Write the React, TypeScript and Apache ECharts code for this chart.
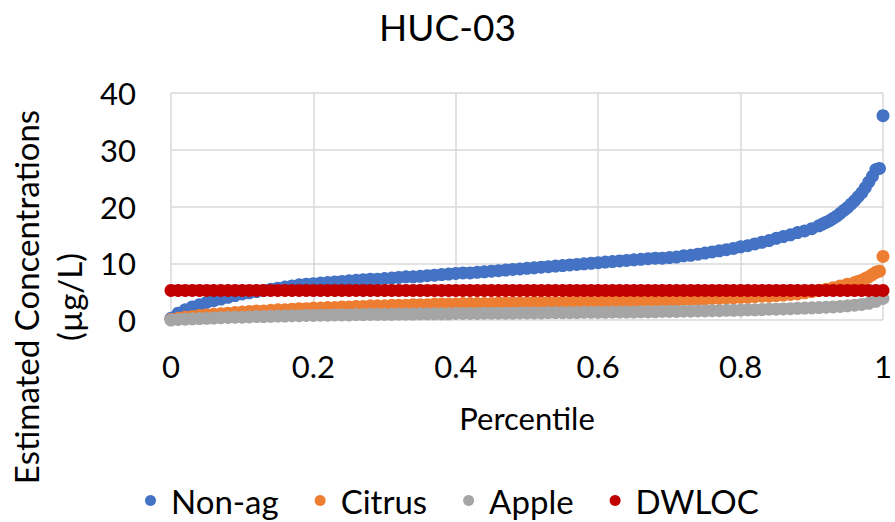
import React, { useEffect, useRef } from "react";
import * as echarts from "echarts";

const TITLE = "HUC-03";
const SERIES_NAMES = ["Non-ag", "Citrus", "Apple", "DWLOC"];
const COLORS = ["#4472C4", "#ED7D31", "#A5A5A5", "#C00000"];
const X_TICKS = [0, 0.2, 0.4, 0.6, 0.8, 1];
const Y_TICKS = [0, 10, 20, 30, 40];

// sorted estimated concentrations (µg/L) at percentiles 0, 0.01, ..., 1
const NON_AG = [
  0.3, 1.2, 1.8, 2.3, 2.7, 3.1, 3.4, 3.7, 4.0, 4.3,
  4.6, 4.8, 5.0, 5.2, 5.4, 5.6, 5.8, 6.0, 6.2, 6.3,
  6.4, 6.5, 6.6, 6.7, 6.8, 6.9, 7.0, 7.1, 7.2, 7.2,
  7.3, 7.4, 7.5, 7.6, 7.6, 7.7, 7.8, 7.9, 8.0, 8.1,
  8.2, 8.3, 8.3, 8.4, 8.5, 8.6, 8.7, 8.8, 8.9, 9.0,
  9.1, 9.2, 9.3, 9.4, 9.5, 9.6, 9.7, 9.8, 9.9, 10.0,
  10.1, 10.2, 10.3, 10.4, 10.5, 10.6, 10.7, 10.8, 10.9, 10.9,
  11.0, 11.1, 11.3, 11.4, 11.6, 11.8, 12.0, 12.2, 12.4, 12.6,
  12.9, 13.1, 13.4, 13.7, 14.0, 14.4, 14.7, 15.0, 15.4, 15.7,
  16.1, 16.6, 17.2, 17.9, 18.8, 19.8, 21.0, 22.4, 24.3, 26.5,
  36.0,
];
// extra samples read in the steep upper tail: [percentile, value]
const NON_AG_TAIL = [
  [0.915, 16.9], [0.925, 17.5], [0.935, 18.3], [0.945, 19.3], [0.955, 20.4],
  [0.965, 21.7], [0.975, 23.3], [0.985, 25.3], [0.995, 26.7],
];
const CITRUS = [
  0.1, 0.3, 0.5, 0.6, 0.8, 0.9, 1.0, 1.1, 1.2, 1.3,
  1.4, 1.5, 1.6, 1.6, 1.7, 1.8, 1.8, 1.9, 2.0, 2.0,
  2.1, 2.1, 2.2, 2.2, 2.3, 2.3, 2.4, 2.4, 2.5, 2.5,
  2.5, 2.6, 2.6, 2.6, 2.7, 2.7, 2.7, 2.8, 2.8, 2.8,
  2.8, 2.9, 2.9, 2.9, 2.9, 2.9, 3.0, 3.0, 3.0, 3.0,
  3.0, 3.1, 3.1, 3.1, 3.1, 3.1, 3.2, 3.2, 3.2, 3.2,
  3.2, 3.3, 3.3, 3.3, 3.3, 3.3, 3.4, 3.4, 3.4, 3.5,
  3.5, 3.5, 3.6, 3.6, 3.7, 3.7, 3.8, 3.8, 3.9, 3.9,
  4.0, 4.0, 4.1, 4.2, 4.2, 4.3, 4.4, 4.5, 4.6, 4.8,
  5.0, 5.2, 5.4, 5.7, 6.0, 6.3, 6.6, 7.0, 7.6, 8.4,
  11.2,
];
const CITRUS_TAIL = [
  [0.965, 6.8], [0.975, 7.3], [0.985, 8.0], [0.995, 8.6],
];
const APPLE = [
  0.0, 0.1, 0.15, 0.2, 0.25, 0.3, 0.35, 0.4, 0.45, 0.5,
  0.5, 0.55, 0.6, 0.6, 0.65, 0.7, 0.7, 0.75, 0.75, 0.8,
  0.8, 0.85, 0.85, 0.9, 0.9, 0.9, 0.95, 0.95, 1.0, 1.0,
  1.0, 1.0, 1.05, 1.05, 1.05, 1.1, 1.1, 1.1, 1.1, 1.1,
  1.15, 1.15, 1.15, 1.15, 1.2, 1.2, 1.2, 1.2, 1.2, 1.25,
  1.25, 1.25, 1.25, 1.3, 1.3, 1.3, 1.3, 1.3, 1.35, 1.35,
  1.35, 1.35, 1.4, 1.4, 1.4, 1.4, 1.45, 1.45, 1.45, 1.5,
  1.5, 1.5, 1.55, 1.55, 1.6, 1.6, 1.65, 1.65, 1.7, 1.7,
  1.75, 1.8, 1.8, 1.85, 1.9, 1.9, 1.95, 2.0, 2.05, 2.1,
  2.15, 2.2, 2.25, 2.3, 2.4, 2.5, 2.6, 2.75, 2.95, 3.3,
  3.8,
];
const DWLOC = 5.2;

const FONT = "Lato";

export default function App() {
  const ref = useRef<HTMLDivElement>(null);

  useEffect(() => {
    document.body.style.margin = "0";
    if (!ref.current) return;
    const chart = echarts.init(ref.current, undefined, { renderer: "svg" });
    const pct = (i: number, n: number) => i / (n - 1);
    const toPts = (arr: number[]) => arr.map((v, i) => [pct(i, arr.length), v]);
    const byX = (a: number[], b: number[]) => a[0] - b[0];
    const dwlocPts = NON_AG.map((_, i) => [pct(i, NON_AG.length), DWLOC]);
    const seriesData = [
      toPts(NON_AG).concat(NON_AG_TAIL).sort(byX),
      toPts(CITRUS).concat(CITRUS_TAIL).sort(byX),
      toPts(APPLE),
      dwlocPts,
    ];

    chart.setOption({
      animation: false,
      backgroundColor: "#ffffff",
      color: COLORS,
      title: {
        text: TITLE,
        left: "center",
        top: 3,
        textStyle: { fontFamily: FONT, fontSize: 37, fontWeight: "normal", color: "#000" },
      },
      grid: { left: 171, right: 9, top: 93, bottom: 202 },
      legend: {
        top: 479,
        left: 140,
        icon: "circle",
        itemWidth: 11,
        itemHeight: 11,
        itemGap: 36,
        data: SERIES_NAMES,
        textStyle: { fontFamily: FONT, fontSize: 33, color: "#000", padding: [0, 0, 0, 10] },
      },
      xAxis: {
        type: "value",
        min: X_TICKS[0],
        max: X_TICKS[X_TICKS.length - 1],
        interval: 0.2,
        name: "Percentile",
        nameLocation: "middle",
        nameGap: 82,
        nameTextStyle: { fontFamily: FONT, fontSize: 31, color: "#000" },
        axisLine: { show: false },
        axisTick: { show: false },
        axisLabel: { fontFamily: FONT, fontSize: 31, color: "#000", margin: 30 },
        splitLine: { show: true, lineStyle: { color: "#D9D9D9", width: 1.5 } },
      },
      yAxis: {
        type: "value",
        min: Y_TICKS[0],
        max: Y_TICKS[Y_TICKS.length - 1],
        interval: 10,
        axisLine: { show: false },
        axisTick: { show: false },
        axisLabel: { fontFamily: FONT, fontSize: 31, color: "#000", margin: 35 },
        splitLine: { show: true, lineStyle: { color: "#D9D9D9", width: 1.5 } },
      },
      graphic: [
        {
          type: "text",
          x: 47,
          y: 297,
          rotation: Math.PI / 2,
          style: {
            text: "Estimated Concentrations\n(µg/L)",
            fontFamily: FONT,
            fontSize: 33,
            lineHeight: 43,
            fill: "#000",
            align: "center",
            verticalAlign: "middle",
          },
        },
      ],
      series: SERIES_NAMES.map((name, k) => ({
        name,
        type: "scatter",
        symbol: "circle",
        symbolSize: 13,
        data: seriesData[k],
        itemStyle: { color: COLORS[k], opacity: 1 },
        emphasis: { disabled: true },
      })),
    });

    return () => chart.dispose();
  }, []);

  return <div ref={ref} style={{ width: 895, height: 522 }} />;
}
